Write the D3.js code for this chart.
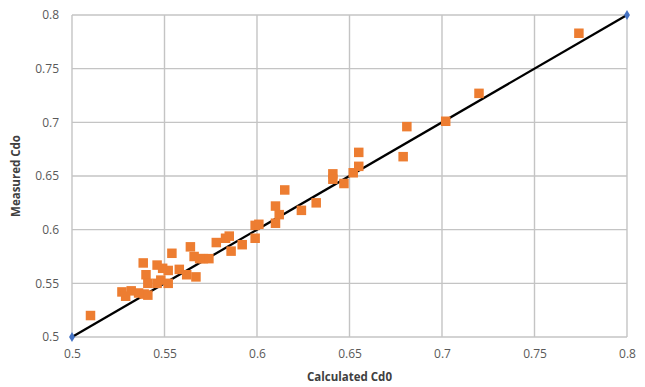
<!DOCTYPE html>
<html>
<head>
<meta charset="utf-8">
<script src="https://cdn.jsdelivr.net/npm/d3@7"></script>
<style>
  html, body { margin: 0; padding: 0; background: #fff; }
  svg { display: block; }
  .tick text { font-family: "Open Sans", "Liberation Sans", sans-serif; font-size: 12px; fill: #595959; }
  .title { font-family: "Open Sans", "Liberation Sans", sans-serif; font-size: 11.5px; font-weight: bold; fill: #404040; }
</style>
</head>
<body>
<svg id="chart" width="645" height="387"></svg>
<script>
// Calculated vs measured discharge coefficient
const calculatedCd0 = [
  0.510, 0.527, 0.529, 0.532, 0.536, 0.539, 0.541,
  0.5385, 0.540, 0.541, 0.546, 0.548, 0.546, 0.549, 0.552, 0.554, 0.552,
  0.558, 0.562, 0.567, 0.564, 0.566, 0.569, 0.571, 0.574,
  0.578, 0.583, 0.585, 0.586, 0.592, 0.599, 0.601, 0.599,
  0.610, 0.612, 0.610, 0.615, 0.624, 0.632,
  0.641, 0.641, 0.647, 0.652, 0.655, 0.655,
  0.679, 0.681, 0.702, 0.720, 0.774
];
const measuredCd0 = [
  0.520, 0.542, 0.538, 0.543, 0.541, 0.540, 0.539,
  0.569, 0.558, 0.550, 0.550, 0.553, 0.567, 0.564, 0.562, 0.578, 0.550,
  0.563, 0.558, 0.556, 0.584, 0.575, 0.573, 0.573, 0.573,
  0.588, 0.592, 0.594, 0.580, 0.586, 0.604, 0.605, 0.592,
  0.622, 0.614, 0.606, 0.637, 0.618, 0.625,
  0.652, 0.647, 0.643, 0.653, 0.659, 0.672,
  0.668, 0.696, 0.701, 0.727, 0.783
];
// 1:1 reference line end points
const lineX = [0.5, 0.8];
const lineY = [0.5, 0.8];
const tickValues = [0.5, 0.55, 0.6, 0.65, 0.7, 0.75, 0.8];
const tickLabels = ["0.5", "0.55", "0.6", "0.65", "0.7", "0.75", "0.8"];
const xTitle = "Calculated Cd0";
const yTitle = "Measured Cdo";

const svg = d3.select("#chart");
const margin = { left: 72, right: 18, top: 15, bottom: 50 };
const W = 645, H = 387;

const x = d3.scaleLinear().domain([0.5, 0.8]).range([margin.left, W - margin.right]);
const y = d3.scaleLinear().domain([0.5, 0.8]).range([H - margin.bottom, margin.top]);

// gridlines
const grid = svg.append("g");
grid.selectAll("line.v").data(tickValues).join("line")
  .attr("x1", d => x(d)).attr("x2", d => x(d))
  .attr("y1", y(0.5)).attr("y2", y(0.8))
  .attr("stroke", "#c4c4c4").attr("stroke-width", 1.4);
grid.selectAll("line.h").data(tickValues).join("line")
  .attr("y1", d => y(d)).attr("y2", d => y(d))
  .attr("x1", x(0.5)).attr("x2", x(0.8))
  .attr("stroke", "#c4c4c4").attr("stroke-width", 1.4);

// axes (labels only)
const fmt = (d, i) => tickLabels[i];
const xAxis = svg.append("g").attr("transform", `translate(0,${y(0.5)})`)
  .call(d3.axisBottom(x).tickValues(tickValues).tickFormat(fmt).tickSize(0).tickPadding(12));
const yAxis = svg.append("g").attr("transform", `translate(${x(0.5)},0)`)
  .call(d3.axisLeft(y).tickValues(tickValues).tickFormat(fmt).tickSize(0).tickPadding(13));
xAxis.select(".domain").remove();
yAxis.select(".domain").remove();

// 1:1 line
const pts = lineX.map((v, i) => [v, lineY[i]]);
svg.append("path")
  .attr("d", d3.line().x(d => x(d[0])).y(d => y(d[1]))(pts))
  .attr("stroke", "#000").attr("stroke-width", 2.3).attr("fill", "none");

// data squares
const s = 9.5;
svg.append("g").selectAll("rect").data(calculatedCd0.map((v, i) => [v, measuredCd0[i]])).join("rect")
  .attr("x", d => x(d[0]) - s / 2).attr("y", d => y(d[1]) - s / 2)
  .attr("width", s).attr("height", s)
  .attr("fill", "#ED7D31");

// diamond markers at line ends
svg.append("g").selectAll("path").data(pts).join("path")
  .attr("d", d3.symbol(d3.symbolDiamond, 30))
  .attr("transform", d => `translate(${x(d[0])},${y(d[1])})`)
  .attr("fill", "#4472C4");

// axis titles
svg.append("text").attr("class", "title")
  .attr("x", (x(0.5) + x(0.8)) / 2).attr("y", 381)
  .attr("text-anchor", "middle").text(xTitle);
svg.append("text").attr("class", "title")
  .attr("transform", `translate(20,${(y(0.5) + y(0.8)) / 2}) rotate(-90)`)
  .attr("text-anchor", "middle").text(yTitle);
</script>
</body>
</html>
